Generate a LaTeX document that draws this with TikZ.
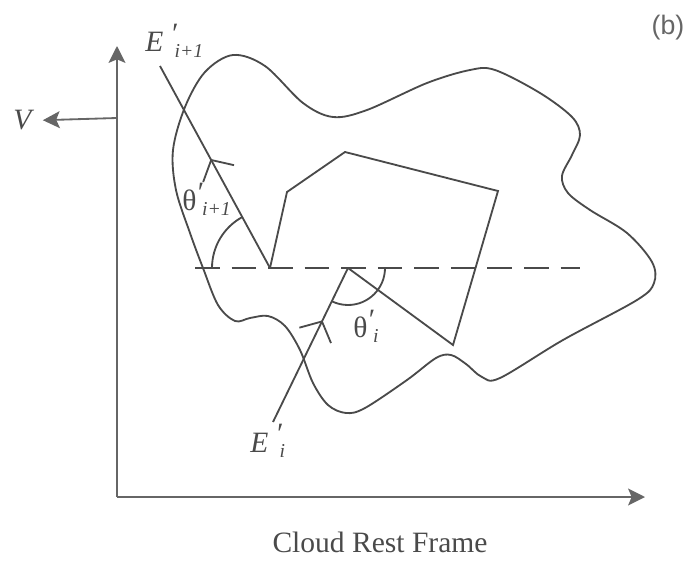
\documentclass[tikz,border=0pt]{standalone}
\usepackage{fontspec}
\setmainfont{Liberation Serif}
\newfontfamily\policesans{Liberation Sans}
\usepackage{xcolor}
\usepackage{tikz}
\usetikzlibrary{arrows.meta, decorations.markings}
\definecolor{trait}{HTML}{4A4A4A}
\definecolor{grisaxe}{HTML}{666666}
\newcommand{\apos}[1][5pt]{\raisebox{#1}{′}}
\newcommand{\indice}[1]{\raisebox{-4pt}{\fontsize{14}{14}\selectfont\itshape #1}}
\tikzset{
  contour/.style={draw=trait, line width=1.3pt},
  polygone/.style={draw=trait, line width=1.3pt, line join=miter},
  rayon/.style={draw=trait, line width=1.3pt, postaction={decorate},
    decoration={markings, mark=at position #1 with
      {\arrow{Straight Barb[length=11pt, width=25pt]}}}},
  axe/.style={draw=grisaxe, line width=1.3pt,
    -{Stealth[length=12pt, width=12pt, inset=2.5pt]}},
  pointille/.style={draw=trait, line width=1.3pt, dash pattern=on 17.5pt off 8.5pt},
  arcangle/.style={draw=trait, line width=1.3pt},
  etiquette/.style={text=trait, font=\fontsize{21}{21}\selectfont, inner sep=0pt},
  legende/.style={text=trait, font=\fontsize{21}{21}\selectfont, inner sep=0pt},
  repere/.style={text=grisaxe, font=\policesans\fontsize{19}{19}\selectfont, inner sep=0pt}
}

\begin{document}
\begin{tikzpicture}[x=0.025cm, y=-0.025cm]
    \useasboundingbox (0,0) rectangle (691,565);

    \coordinate (O) at (117,497);
    \coordinate (haut) at (117,46);
    \coordinate (droite) at (645,497);
    \coordinate (Vdep) at (117,118);
    \draw[axe] (O) -- (haut);
    \draw[axe] (O) -- (droite);
    \node[etiquette, anchor=base west] (V) at (13,130) {\itshape V};
    \draw[axe, shorten >=8pt] (Vdep) -- (V.east);

    \draw[contour] plot[smooth cycle, tension=0.55] coordinates {
      (173,150) (185,107) (205,72) (233,55) (265,66) (303,103) (333,117)
      (367,110) (427,83) (470,70) (495,70) (540,93) (572,117) (580,135)
      (572,155) (562,176) (568,193) (590,210) (627,233) (652,262) (654,283)
      (637,300) (563,340) (500,378) (482,377) (466,364) (451,355) (436,358)
      (407,380) (365,408) (346,413) (328,405) (313,383) (300,350) (285,326)
      (268,316) (250,318) (235,321) (218,305) (203,268) (190,233) (176,190)};

    \coordinate (dg) at (195,268);
    \coordinate (dd) at (580,268);
    \draw[pointille] (dg) -- (dd);

    \coordinate (S1) at (270,268);
    \coordinate (S2) at (348,268);
    \coordinate (P1) at (287,192);
    \coordinate (P2) at (345,152);
    \coordinate (P3) at (498,191);
    \coordinate (P4) at (453,345);
    \draw[polygone] (S1) -- (P1) -- (P2) -- (P3) -- (P4) -- (S2);

    \coordinate (sortie) at (160,66);
    \coordinate (entree) at (273,422);
    \draw[rayon=0.54] (S1) -- (sortie);
    \draw[rayon=0.66] (entree) -- (S2);

    \draw[arcangle] (S1) ++(-58,0) arc[start angle=180, end angle=242, radius=58];
    \draw[arcangle] (S2) ++(37,0) arc[start angle=0, end angle=116, radius=37];

    \node[etiquette, anchor=base west] (Esortie) at (145,52)
      {\itshape E\kern5pt\apos[6pt]\kern-1.5pt\indice{i+1}};
    \node[etiquette, anchor=base west] (Eentree) at (250,452)
      {\itshape E\kern5pt\apos[6pt]\kern-1.5pt\indice{i}};
    \node[etiquette, anchor=base west] (thsortie) at (182,210)
      {θ\kern1pt\apos[5pt]\kern-1.5pt\indice{i+1}};
    \node[etiquette, anchor=base west] (thentree) at (353,337)
      {θ\kern1pt\apos[5pt]\kern-1.5pt\indice{i}};

    \node[repere] (b) at (668,28) {(b)};
    \node[legende, anchor=base] (titre) at (380,552) {Cloud Rest Frame};
\end{tikzpicture}
\end{document}
